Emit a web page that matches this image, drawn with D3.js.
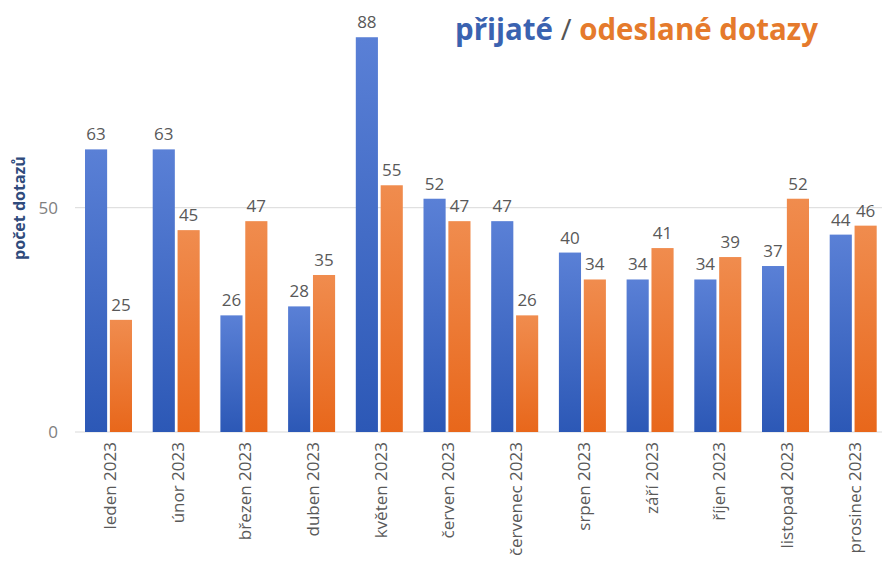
<!DOCTYPE html>
<html><head><meta charset="utf-8">
<script src="https://cdn.jsdelivr.net/npm/d3@7"></script>
<style>
html,body{margin:0;padding:0;background:#fff;}
svg{display:block;}
</style></head>
<body>
<svg id="chart" width="882" height="561"></svg>
<script>
const months = ["leden 2023","únor 2023","březen 2023","duben 2023","květen 2023","červen 2023","červenec 2023","srpen 2023","září 2023","říjen 2023","listopad 2023","prosinec 2023"];
const prijate = [63,63,26,28,88,52,47,40,34,34,37,44];
const odeslane = [25,45,47,35,55,47,26,34,41,39,52,46];
const yTicks = [0,50];
const seriesNames = ["přijaté","odeslané"];

const svg = d3.select("#chart");
const defs = svg.append("defs");
function grad(id, top, bottom){
  const g = defs.append("linearGradient").attr("id", id).attr("x1",0).attr("y1",0).attr("x2",0).attr("y2",1);
  g.append("stop").attr("offset","0%").attr("stop-color",top);
  g.append("stop").attr("offset","100%").attr("stop-color",bottom);
}
grad("gBlue","#5a80d6","#2c58b6");
grad("gOrange","#f08c4e","#e8671b");

const font = "'Open Sans', 'DejaVu Sans', sans-serif";
const x0 = d3.scaleBand().domain(months).range([75, 75 + 12*67.7]).paddingInner(0).paddingOuter(0);
const x1 = d3.scaleBand().domain(seriesNames).range([10, 57]).paddingInner(0.11);
const y = d3.scaleLinear().domain([0,50]).range([432, 207.7]);

// gridlines
svg.append("g").selectAll("line").data(yTicks).join("line")
  .attr("x1",75).attr("x2",882)
  .attr("y1",d=>y(d)).attr("y2",d=>y(d))
  .attr("stroke","#d9d9d9").attr("stroke-width",1);

// y tick labels
svg.append("g").selectAll("text").data(yTicks).join("text")
  .attr("x",58).attr("y",d=>y(d)).attr("dy","0.36em")
  .attr("text-anchor","end")
  .attr("font-family",font).attr("font-size",17).attr("fill","#808080")
  .text(d=>d);

// y axis title
svg.append("text")
  .attr("transform","translate(25,208) rotate(-90)")
  .attr("text-anchor","middle")
  .attr("font-family",font).attr("font-weight","bold").attr("font-size",16)
  .attr("fill","#2f4b7c")
  .text("počet dotazů");

const data = months.map((m,i)=>({m, vals:[{s:"přijaté",v:prijate[i]},{s:"odeslané",v:odeslane[i]}]}));

const groups = svg.append("g").selectAll("g").data(data).join("g")
  .attr("transform",d=>`translate(${x0(d.m)},0)`);

groups.selectAll("rect").data(d=>d.vals).join("rect")
  .attr("x",d=>x1(d.s)).attr("width",x1.bandwidth())
  .attr("y",d=>y(d.v)).attr("height",d=>y(0)-y(d.v))
  .attr("fill",d=>d.s==="přijaté"?"url(#gBlue)":"url(#gOrange)");

groups.selectAll("text.val").data(d=>d.vals).join("text").attr("class","val")
  .attr("x",d=>x1(d.s)+x1.bandwidth()/2).attr("y",d=>y(d.v)-9)
  .attr("text-anchor","middle")
  .attr("font-family",font).attr("font-size",17).attr("fill","#595959")
  .text(d=>d.v);

// x axis labels
svg.append("g").selectAll("text").data(months).join("text")
  .attr("transform",d=>`translate(${x0(d)+x0.bandwidth()/2+1},442) rotate(-90)`)
  .attr("text-anchor","end").attr("dy","0.36em")
  .attr("font-family",font).attr("font-size",17).attr("fill","#595959")
  .text(d=>d);

// title
const t = svg.append("text").attr("x",455).attr("y",40)
  .attr("font-family",font).attr("font-weight","bold").attr("font-size",25);
t.append("tspan").attr("fill","#3a62b0").text("přijaté");
t.append("tspan").attr("fill","#555555").attr("font-weight","normal").text(" / ");
t.append("tspan").attr("fill","#e57a2c").text("odeslané dotazy");
const w = t.node().getComputedTextLength();
t.attr("font-size", 25 * 363 / w);
</script>
</body></html>
